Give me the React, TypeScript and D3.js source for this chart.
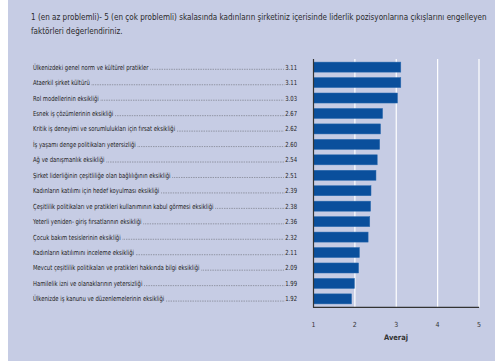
import React, { useEffect, useRef, useState } from "react";
import * as d3 from "d3";

const categories = [
  "Ülkenizdeki genel norm ve kültürel pratikler",
  "Ataerkil şirket kültürü",
  "Rol modellerinin eksikliği",
  "Esnek iş çözümlerinin eksikliği",
  "Kritik iş deneyimi ve sorumlulukları için fırsat eksikliği",
  "İş yaşamı denge politikaları yetersizliği",
  "Ağ ve danışmanlık eksikliği",
  "Şirket liderliğinin çeşitliliğe olan bağlılığının eksikliği",
  "Kadınların katılımı için hedef koyulması eksikliği",
  "Çeşitlilik politikaları ve pratikleri kullanımının kabul görmesi eksikliği",
  "Yeterli yeniden- giriş fırsatlarının eksikliği",
  "Çocuk bakım tesislerinin eksikliği",
  "Kadınların katılımını inceleme eksikliği",
  "Mevcut çeşitlilik politikaları ve pratikleri hakkında bilgi eksikliği",
  "Hamilelik izni ve olanaklarının yetersizliği",
  "Ülkenizde iş kanunu ve düzenlemelerinin eksikliği",
];
const values = [3.11, 3.11, 3.03, 2.67, 2.62, 2.6, 2.54, 2.51, 2.39, 2.38, 2.36, 2.32, 2.11, 2.09, 1.99, 1.92];
const xTicks = [1, 2, 3, 4, 5];
const titleLines = [
  "1 (en az problemli)- 5 (en çok problemli) skalasında kadınların şirketiniz içerisinde liderlik pozisyonlarına çıkışlarını engelleyen",
  "faktörleri değerlendiriniz.",
];
const axisTitle = "Averaj";

const W = 495;
const H = 364;
const FONT = "'DejaVu Sans Condensed', 'Liberation Sans Narrow', sans-serif";
const LS = 0.84; // horizontal squeeze for row labels

export default function App() {
  const x = d3.scaleLinear().domain([1, 5]).range([313.5, 479]);
  const y = d3
    .scaleBand<string>()
    .domain(categories)
    .range([59, 307])
    .paddingInner(0.35)
    .paddingOuter(0.2);
  const labelRefs = useRef<(SVGTextElement | null)[]>([]);
  const valueRefs = useRef<(SVGTextElement | null)[]>([]);
  const titleRef = useRef<SVGTextElement | null>(null);
  const [ends, setEnds] = useState<{ a: number; b: number }[]>([]);
  const [tScale, setTScale] = useState(0.74);

  useEffect(() => {
    const e = categories.map((_, i) => {
      const l = labelRefs.current[i];
      const v = valueRefs.current[i];
      const a = l ? 33 + l.getComputedTextLength() * LS + 2 : 150;
      const b = v ? 297 - v.getComputedTextLength() * LS - 1 : 285;
      return { a, b };
    });
    setEnds(e);
    if (titleRef.current) {
      const len = titleRef.current.getComputedTextLength();
      if (len > 0) setTScale(455 / len);
    }
  }, []);

  return (
    <svg width={W} height={H} style={{ position: "absolute", left: 0, top: 0 }}>
      <rect x={8} y={0} width={W - 8} height={361} fill="#c6cce4" />
      <g transform={`translate(31,0) scale(${tScale},1)`}>
        {titleLines.map((t, i) => (
          <text
            key={i}
            ref={i === 0 ? titleRef : undefined}
            x={0}
            y={20 + i * 14}
            fontFamily={FONT}
            fontSize={9.5}
            fill="#2a2a2a"
          >
            {t}
          </text>
        ))}
      </g>
      {xTicks.slice(1).map((t) => (
        <line key={t} x1={x(t)} x2={x(t)} y1={59} y2={307} stroke="#ffffff" strokeWidth={1.2} />
      ))}
      {categories.map((c, i) => {
        const cy = (y(c) as number) + y.bandwidth() / 2;
        return (
          <g key={c}>
            <rect
              x={x(1)}
              y={y(c)}
              width={x(values[i]) - x(1)}
              height={y.bandwidth()}
              fill="#0a4f9c"
              stroke="#2e6db0"
              strokeWidth={0.5}
            />
            <g transform={`translate(33,0) scale(${LS},1)`}>
              <text
                ref={(el) => {
                  labelRefs.current[i] = el;
                }}
                x={0}
                y={cy + 2.5}
                fontFamily={FONT}
                fontSize={7}
                fill="#222"
              >
                {c}
              </text>
            </g>
            {ends[i] && ends[i].b > ends[i].a && (
              <line
                x1={ends[i].a}
                x2={ends[i].b}
                y1={cy + 2.2}
                y2={cy + 2.2}
                stroke="#333"
                strokeWidth={0.6}
                strokeDasharray="0.6 1.1"
              />
            )}
            <g transform={`translate(297,0) scale(${LS},1)`}>
              <text
                ref={(el) => {
                  valueRefs.current[i] = el;
                }}
                x={0}
                y={cy + 2.5}
                textAnchor="end"
                fontFamily={FONT}
                fontSize={7}
                fill="#222"
              >
                {values[i].toFixed(2)}
              </text>
            </g>
          </g>
        );
      })}
      <line x1={x(1)} x2={x(1)} y1={59} y2={307.5} stroke="#333" strokeWidth={1.2} />
      <line x1={x(1) - 0.5} x2={x(5)} y1={307.3} y2={307.3} stroke="#333" strokeWidth={1.2} />
      {xTicks.map((t) => (
        <text key={t} x={x(t)} y={327} textAnchor="middle" fontFamily={FONT} fontSize={7} fill="#333">
          {t}
        </text>
      ))}
      <text x={396} y={339.5} textAnchor="middle" fontFamily={FONT} fontSize={7.5} fontWeight="bold" fill="#333">
        {axisTitle}
      </text>
    </svg>
  );
}
